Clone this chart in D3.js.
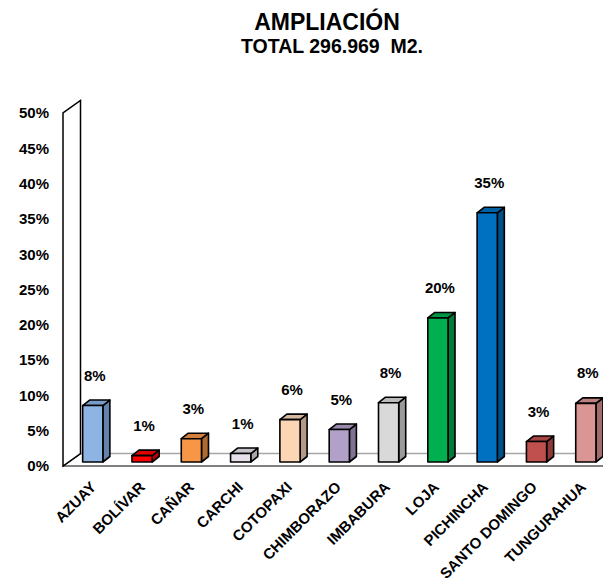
<!DOCTYPE html>
<html>
<head>
<meta charset="utf-8">
<script src="https://cdn.jsdelivr.net/npm/d3@7"></script>
<style>
  body { margin: 0; background: #fff; }
  svg { display: block; font-family: "Liberation Sans", Arial, sans-serif; }
</style>
</head>
<body>
<svg id="chart" width="603" height="585"></svg>
<script>
// data
const categories = ["AZUAY", "BOLÍVAR", "CAÑAR", "CARCHI", "COTOPAXI", "CHIMBORAZO",
  "IMBABURA", "LOJA", "PICHINCHA", "SANTO DOMINGO", "TUNGURAHUA"];
const values = [8.0, 0.9, 3.3, 1.2, 6.0, 4.6, 8.4, 20.4, 35.3, 2.9, 8.3];
const frontColors = ["#8DB4E2", "#FF0000", "#F79646", "#E6E0EC", "#FCD5B4", "#B1A0C7",
  "#D9D9D9", "#00B050", "#0070C0", "#C0504D", "#DA9694"];
const sideColors = ["#6383AB", "#B80000", "#B06A31", "#A6A6A6", "#B39A86", "#7F7292",
  "#9A9A9A", "#007A38", "#004F88", "#8C3A38", "#9E6C6B"];
const yTicks = [0, 5, 10, 15, 20, 25, 30, 35, 40, 45, 50];

const svg = d3.select("#chart");
const width = +svg.attr("width");

const fmt = d => d3.format(".0%")(d / 100);

// front plane value scale
const y = d3.scaleLinear().domain([0, 50]).range([466, 113]);

const x = d3.scaleBand()
  .domain(categories)
  .range([58, 620.6])
  .paddingInner(0.59)
  .paddingOuter(0.5);

// category labels sit on the front edge, slightly tighter than the bars
const xLabel = d3.scalePoint()
  .domain(categories)
  .range([97, 587]);

// 3d offsets
const wallX = 63, wallDx = 17.5, wallDy = -12.5;
const barDx = 7, barDy = -5.5, barShift = -4;

// titles
svg.append("text")
  .attr("x", 327)
  .attr("y", 30)
  .attr("text-anchor", "middle")
  .attr("font-size", "23px")
  .attr("font-weight", "bold")
  .text("AMPLIACIÓN");

svg.append("text")
  .attr("x", 332)
  .attr("y", 53)
  .attr("text-anchor", "middle")
  .attr("font-size", "19.5px")
  .attr("font-weight", "bold")
  .style("white-space", "pre")
  .text("TOTAL 296.969  M2.");

// floor
const floorPts = [[wallX, y(0)], [wallX + wallDx, y(0) + wallDy], [width + 5, y(0) + wallDy], [width + 5, y(0)]];
svg.append("polygon")
  .attr("points", floorPts.map(p => p.join(",")).join(" "))
  .attr("fill", "#fff")
  .attr("stroke", "none");
svg.append("line")
  .attr("x1", wallX + wallDx).attr("x2", width)
  .attr("y1", y(0) + wallDy).attr("y2", y(0) + wallDy)
  .attr("stroke", "#A6A6A6").attr("stroke-width", 1.5);
svg.append("line")
  .attr("x1", wallX).attr("x2", width)
  .attr("y1", y(0)).attr("y2", y(0))
  .attr("stroke", "#808080").attr("stroke-width", 2);
svg.append("line")
  .attr("x1", wallX).attr("x2", wallX + wallDx)
  .attr("y1", y(0)).attr("y2", y(0) + wallDy)
  .attr("stroke", "#000").attr("stroke-width", 1.5);

// back/left wall
const wallPts = [[wallX, y(0)], [wallX, y(50)], [wallX + wallDx, y(50) + wallDy], [wallX + wallDx, y(0) + wallDy]];
svg.append("polygon")
  .attr("points", wallPts.map(p => p.join(",")).join(" "))
  .attr("fill", "#fff")
  .attr("stroke", "#000")
  .attr("stroke-width", 1.5)
  .attr("stroke-linejoin", "miter");

// y axis
const yAxis = svg.append("g")
  .attr("transform", `translate(${wallX},0)`)
  .call(d3.axisLeft(y).tickValues(yTicks).tickFormat(d => d + "%").tickSize(0).tickPadding(14));
yAxis.select(".domain").remove();
yAxis.selectAll("text")
  .attr("font-family", "'Liberation Sans', Arial, sans-serif")
  .attr("font-size", "15px")
  .attr("font-weight", "bold")
  .attr("fill", "#000");

// bars
const data = categories.map((c, i) => ({ c, v: values[i], front: frontColors[i], side: sideColors[i] }));

svg.selectAll(".bar")
  .data(data)
  .enter()
  .append("g")
  .attr("class", "bar")
  .each(function (d) {
    const g = d3.select(this);
    const x0 = x(d.c), w = x.bandwidth();
    const yt = y(d.v) + barShift, yb = y(0) + barShift;
    const pts = a => a.map(p => p.join(",")).join(" ");

    g.append("polygon")
      .attr("points", pts([[x0 + w, yt], [x0 + w + barDx, yt + barDy], [x0 + w + barDx, yb + barDy], [x0 + w, yb]]))
      .attr("fill", d.side);
    g.append("polygon")
      .attr("points", pts([[x0, yt], [x0 + barDx, yt + barDy], [x0 + w + barDx, yt + barDy], [x0 + w, yt]]))
      .attr("fill", d3.interpolateRgb(d.front, d.side)(0.5));
    g.append("rect")
      .attr("x", x0)
      .attr("y", yt)
      .attr("width", w)
      .attr("height", yb - yt)
      .attr("fill", d.front);
    g.selectAll("polygon, rect")
      .attr("stroke", "#000")
      .attr("stroke-width", 1.6)
      .attr("stroke-linejoin", "round");

    g.append("text")
      .attr("x", x0 + w / 2 + 2)
      .attr("y", yt - 25)
      .attr("text-anchor", "middle")
      .attr("font-size", "15px")
      .attr("font-weight", "bold")
      .text(fmt(d.v));
  });

// category labels
svg.selectAll(".cat")
  .data(categories)
  .enter()
  .append("text")
  .attr("class", "cat")
  .attr("text-anchor", "end")
  .attr("font-size", "15px")
  .attr("font-weight", "bold")
  .attr("transform", d => `translate(${xLabel(d)},488) rotate(-45)`)
  .text(d => d);
</script>
</body>
</html>
